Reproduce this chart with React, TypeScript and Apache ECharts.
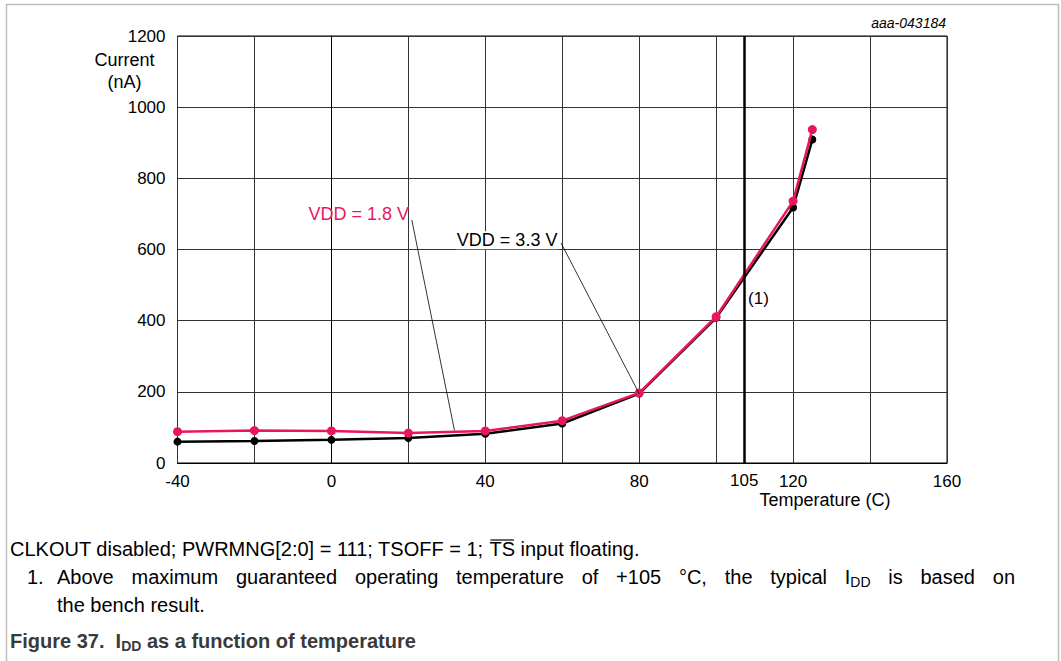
import React, { useEffect, useRef } from "react";
import * as echarts from "echarts";

// ---- data ----
const temps = [-40, -20, 0, 20, 40, 60, 80, 100, 120, 125];
const vdd18 = [88, 91, 90, 84, 90, 119, 197, 411, 736, 937];
const vdd33 = [60, 62, 65, 70, 82, 111, 195, 408, 718, 909];
const xTickLabels = [-40, 0, 40, 80, 120, 160];
const limitLabel = "105";
const limitLinePos = 107.3; // where the reference draws its 105 °C marker

// annotation anchors (data coordinates)
const label18At = [20.2, 699];
const leader18 = [[20.9, 683], [32, 91]];
const label33At = [59, 626];
const leader33 = [[59.7, 618], [80, 195]];
const note1At = [108.3, 463];

const FONT = '"Liberation Sans", Arial, Helvetica, sans-serif';
const PINK = "#e8175d";

function measure(text: string, font: string): number {
  const c = document.createElement("canvas").getContext("2d")!;
  c.font = font;
  return c.measureText(text).width;
}

export default function App() {
  const ref = useRef<HTMLDivElement>(null);
  useEffect(() => {
    const chart = echarts.init(ref.current!, null, { renderer: "svg" });
    const toPairs = (ys: number[]) => temps.map((t, i) => [t, ys[i]]);
    chart.setOption({
      animation: false,
      grid: {
        left: 177.5,
        right: 114,
        top: 36,
        bottom: 198,
        show: true,
        borderColor: "#000",
        borderWidth: 1,
        outerBoundsMode: "none",
      },
      xAxis: {
        type: "value",
        min: -40,
        max: 160,
        interval: 20,
        axisLine: { show: true, lineStyle: { color: "#000", width: 1 } },
        axisTick: { show: false },
        splitLine: { show: true, lineStyle: { color: "#333", width: 1 } },
        axisLabel: {
          color: "#000",
          fontSize: 17,
          fontFamily: FONT,
          margin: 10,
          formatter: (v: number) => (xTickLabels.includes(v) ? String(v) : ""),
        },
      },
      yAxis: {
        type: "value",
        min: 0,
        max: 1200,
        interval: 200,
        axisLine: { show: true, lineStyle: { color: "#000", width: 1 } },
        axisTick: { show: false },
        splitLine: { show: true, lineStyle: { color: "#333", width: 1 } },
        axisLabel: {
          color: "#000",
          fontSize: 17,
          fontFamily: FONT,
          margin: 12,
          formatter: (v: number) => String(v),
        },
      },
      series: [
        {
          type: "line",
          name: "VDD = 3.3 V",
          data: toPairs(vdd33),
          symbol: "circle",
          symbolSize: 8,
          lineStyle: { color: "#000", width: 2.5 },
          itemStyle: { color: "#000" },
          z: 3,
          markLine: {
            silent: true,
            symbol: ["none", "none"],
            lineStyle: { color: "#000", width: 2.5, type: "solid" },
            label: {
              show: true,
              position: "start",
              formatter: limitLabel,
              color: "#000",
              fontSize: 17,
              fontFamily: FONT,
              distance: 9,
            },
            data: [{ xAxis: limitLinePos }],
          },
        },
        {
          type: "line",
          name: "VDD = 1.8 V",
          data: toPairs(vdd18),
          symbol: "circle",
          symbolSize: 9,
          lineStyle: { color: PINK, width: 2.5 },
          itemStyle: { color: PINK },
          z: 4,
        },
      ],
    });

    const px = (p: number[]) => chart.convertToPixel({ gridIndex: 0 }, p) as number[];
    const l18 = px(label18At);
    const a18 = px(leader18[0]);
    const b18 = px(leader18[1]);
    const l33 = px(label33At);
    const a33 = px(leader33[0]);
    const b33 = px(leader33[1]);
    const n1 = px(note1At);

    const F20 = `20px ${FONT}`;
    const F14 = `14px ${FONT}`;
    const F20B = `bold 20px ${FONT}`;

    const txt = (x: number, y: number, text: string, extra: any = {}) => ({
      type: "text",
      x,
      y,
      z: 100,
      style: {
        text,
        fill: "#000",
        fontSize: 20,
        fontFamily: FONT,
        align: "left",
        verticalAlign: "middle",
        ...extra,
      },
    });

    const X0 = 10;
    const XI = 57;
    const XR = 1015;
    const y1 = 549, y2 = 577, y3 = 605, y4 = 641;
    const capColor = "#3a3a3a";

    const line1a = "CLKOUT disabled; PWRMNG[2:0] = 111; TSOFF = 1; ";
    const line1b = "TS";
    const line1c = " input floating.";
    const w1a = measure(line1a, F20);
    const w1b = measure(line1b, F20);

    // justified line 2
    const words2: { main: string; sub?: string }[] = [
      { main: "Above" }, { main: "maximum" }, { main: "guaranteed" }, { main: "operating" },
      { main: "temperature" }, { main: "of" }, { main: "+105" }, { main: "°C," }, { main: "the" },
      { main: "typical" }, { main: "I", sub: "DD" }, { main: "is" }, { main: "based" }, { main: "on" },
    ];
    const wWords = words2.map((w) => measure(w.main, F20) + (w.sub ? measure(w.sub, F14) : 0));
    const total = wWords.reduce((a, b) => a + b, 0);
    const gap = (XR - XI - total) / (words2.length - 1);
    const line2Els: any[] = [];
    let cx = XI;
    words2.forEach((w, i) => {
      line2Els.push(txt(cx, y2, w.main));
      if (w.sub) {
        line2Els.push(txt(cx + measure(w.main, F20), y2 + 5, w.sub, { fontSize: 14 }));
      }
      cx += wWords[i] + gap;
    });

    const capA = "Figure 37.  I";
    const capB = "DD";
    const capC = " as a function of temperature";
    const wcA = measure(capA, F20B);
    const wcB = measure(capB, `bold 14px ${FONT}`);

    chart.setOption({
      graphic: [
        {
          type: "polyline",
          z: 100,
          shape: { points: [[6.5, 661], [6.5, 4.5], [1058.5, 4.5], [1058.5, 661]] },
          style: { stroke: "#bdbdbd", lineWidth: 1.5, fill: "none" },
        },
        txt(946, 23, "aaa-043184", { align: "right", fontSize: 14, fontStyle: "italic" }),
        txt(124.5, 60, "Current", { align: "center", fontSize: 18 }),
        txt(124.5, 82, "(nA)", { align: "center", fontSize: 18 }),
        txt(825, 500, "Temperature (C)", { align: "center", fontSize: 18 }),
        {
          type: "line",
          z: 90,
          shape: { x1: a18[0], y1: a18[1], x2: b18[0], y2: b18[1] },
          style: { stroke: "#000", lineWidth: 0.8 },
        },
        {
          type: "line",
          z: 90,
          shape: { x1: a33[0], y1: a33[1], x2: b33[0], y2: b33[1] },
          style: { stroke: "#000", lineWidth: 0.8 },
        },
        txt(l18[0], l18[1], "VDD = 1.8 V", { align: "right", fontSize: 18, fill: PINK }),
        txt(l33[0], l33[1], "VDD = 3.3 V", {
          align: "right",
          fontSize: 18,
          backgroundColor: "#fff",
          padding: [0, 1, 0, 1],
        }),
        txt(n1[0], n1[1], "(1)", { fontSize: 17 }),
        // footnotes
        txt(X0, y1, line1a),
        txt(X0 + w1a, y1, line1b),
        {
          type: "line",
          z: 100,
          shape: { x1: X0 + w1a + 1, y1: y1 - 9, x2: X0 + w1a + w1b - 1, y2: y1 - 9 },
          style: { stroke: "#000", lineWidth: 1.2 },
        },
        txt(X0 + w1a + w1b, y1, line1c),
        txt(27, y2, "1."),
        ...line2Els,
        txt(XI, y3, "the bench result."),
        txt(X0, y4, capA, { fontWeight: "bold", fill: capColor }),
        txt(X0 + wcA, y4 + 5, capB, { fontWeight: "bold", fontSize: 14, fill: capColor }),
        txt(X0 + wcA + wcB, y4, capC, { fontWeight: "bold", fill: capColor }),
      ],
    });
    return () => chart.dispose();
  }, []);
  return (
    <div
      ref={ref}
      style={{ position: "absolute", left: 0, top: 0, width: 1061, height: 661, background: "#fff" }}
    />
  );
}
